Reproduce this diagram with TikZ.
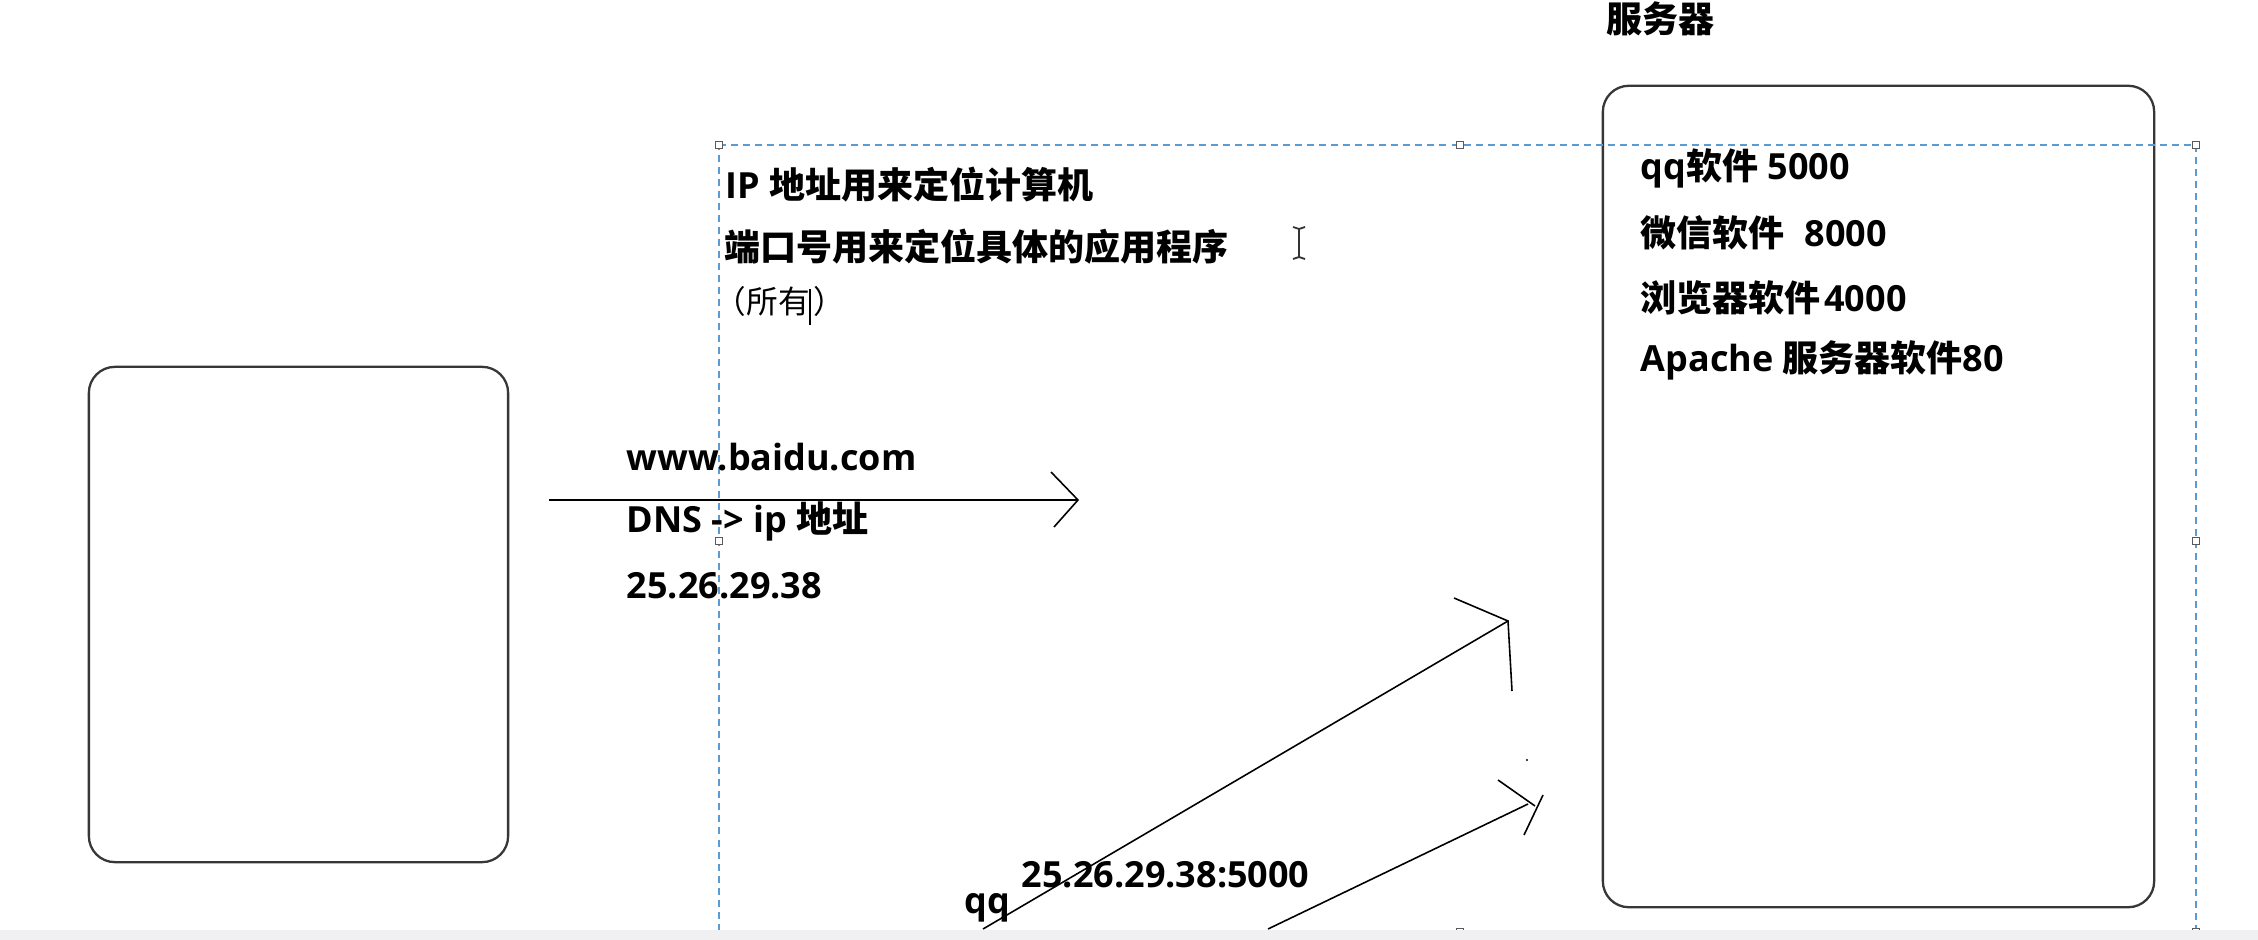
\documentclass[tikz,border=0pt]{standalone}
\usepackage{fontspec}
\setmainfont{Open Sans}
\newfontfamily\cjk{Noto Sans CJK SC}
\definecolor{selblue}{RGB}{91,155,213}
\definecolor{boxgray}{RGB}{55,55,55}
\definecolor{handlegray}{RGB}{90,90,90}
\definecolor{bargray}{RGB}{240,240,242}
\begin{document}
\begin{tikzpicture}[x=0.01cm,y=-0.01cm,
  txt/.style={font=\fontsize{10.24pt}{12pt}\selectfont\bfseries, inner sep=0pt, anchor=base west},
  smalltxt/.style={font=\fontsize{9pt}{11pt}\selectfont\cjk, inner sep=0pt, anchor=base west},
  roundbox/.style={draw=boxgray, line width=0.65pt, rounded corners=0.26cm, inner sep=0pt},
  pen/.style={draw=black, line width=0.45pt},
  selline/.style={draw=selblue, line width=0.45pt, dash pattern=on 0.07cm off 0.05cm},
  handle/.style={draw=handlegray, fill=white, line width=0.4pt, minimum size=0.07cm, inner sep=0pt, rectangle}
]
\useasboundingbox (0,0) rectangle (2258,940);
\fill[white] (0,0) rectangle (2258,940);

% boxes
\node[roundbox, minimum width=4.19cm, minimum height=4.95cm] (client) at (298.5,614.5) {};
\node[roundbox, minimum width=5.51cm, minimum height=8.21cm] (server) at (1878.5,496.5) {};

% selection frame
\coordinate (s1) at (719,145);
\coordinate (s2) at (2196,145);
\coordinate (s3) at (2196,934);
\coordinate (s4) at (719,934);
\draw[selline] (s1) -- (s2) -- (s3) -- (s4) -- cycle;

% texts
\node[txt] (srvlabel) at (1606,33) {\cjk 服务器};
\node[txt] (ipline) at (725,199) {IP {\cjk 地址用来定位计算机}};
\node[txt] (portline) at (724,261) {\cjk 端口号用来定位具体的应用程序};
\node[smalltxt] (allline) at (714,314) {（所有\hspace{0.12em}）};
\node[txt] (qqsw) at (1640,180) {qq{\cjk 软件} 5000};
\node[txt] (wxsw) at (1640,247) {{\cjk 微信软件}\hspace{0.55em}8000};
\node[txt] (brsw) at (1640,312) {{\cjk 浏览器软件}\hspace{0.1em}4000};
\node[txt] (apsw) at (1640,372) {Apache {\cjk 服务器软件}80};
\node[txt] (www) at (626,470) {www.baidu.com};
\node[txt] (dns) at (626,532) {DNS -> ip {\cjk 地址}};
\node[txt] (ipaddr) at (626,598) {25.26.29.38};
\node[txt] (ipport) at (1021,887) {25.26.29.38:5000};
\node[txt] (qq) at (964,913) {qq};

% horizontal arrow
\coordinate (h0) at (549,500);
\coordinate (h1) at (1078,500);
\coordinate (hb1) at (1051,472);
\coordinate (hb2) at (1054,527);
\draw[pen] (h0) -- (h1);
\draw[pen] (hb1) -- (h1) -- (hb2);

% diagonal arrow 1
\coordinate (d0) at (983,929);
\coordinate (d1) at (1508,621);
\coordinate (db1) at (1454,598);
\coordinate (db2) at (1512,691);
\draw[pen] (d0) -- (d1);
\draw[pen] (db1) -- (d1) -- (db2);

% diagonal arrow 2
\coordinate (e0) at (1268,929);
\coordinate (e1) at (1528,804);
\coordinate (eb1) at (1498,780);
\coordinate (eb2) at (1535,806);
\coordinate (eb3) at (1543,795);
\coordinate (eb4) at (1524,835);
\draw[pen] (e0) -- (e1);
\draw[pen] (eb1) -- (eb2);
\draw[pen] (eb3) -- (eb4);
\fill[black] (1527,760) circle (1.2);

% selection handles
\node[handle] (hTL) at (s1) {};
\node[handle] (hTM) at (1460,145) {};
\node[handle] (hTR) at (s2) {};
\node[handle] (hML) at (719,541) {};
\node[handle] (hMR) at (2196,541) {};
\node[handle] (hBM) at (1460,932) {};
\node[handle] (hBR) at (2196,932) {};

% text cursor and I-beam
\coordinate (c0) at (810,289);
\coordinate (c1) at (810,325);
\draw[black, line width=0.4pt] (c0) -- (c1);
\coordinate (ib0) at (1299,229);
\coordinate (ib1) at (1299,257);
\draw[black!80, line width=0.5pt] (ib0) -- (ib1);
\draw[black!80, line width=0.5pt] (1293,227) -- (1299,229) -- (1305,227);
\draw[black!80, line width=0.5pt] (1293,259) -- (1299,257) -- (1305,259);

% bottom bar
\fill[bargray] (0,930) rectangle (2258,940);
\end{tikzpicture}
\end{document}
